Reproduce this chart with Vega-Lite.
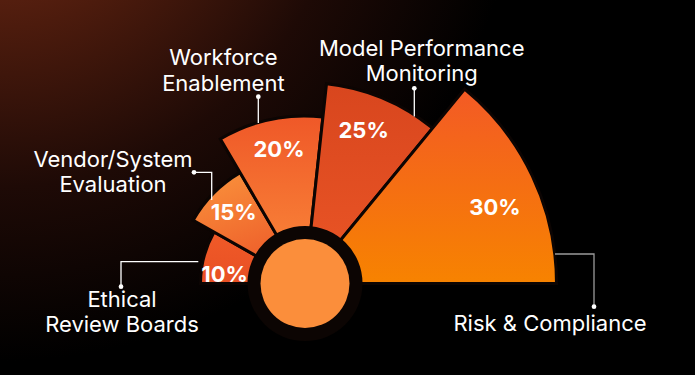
{
  "$schema": "https://vega.github.io/schema/vega-lite/v6.json",
  "width": 695,
  "height": 375,
  "autosize": {"type": "fit", "contains": "padding"},
  "padding": 0,
  "background": "#000000",
  "config": {"view": {"stroke": null}, "font": "Inter"},
  "datasets": {
    "shares": [
      {"area": "Ethical Review Boards", "value": 10, "label": "10%"},
      {"area": "Vendor/System Evaluation", "value": 15, "label": "15%"},
      {"area": "Workforce Enablement", "value": 20, "label": "20%"},
      {"area": "Model Performance Monitoring", "value": 25, "label": "25%"},
      {"area": "Risk & Compliance", "value": 30, "label": "30%"}
    ],
    "leaders": [
      {"g": "ethical", "i": 0, "x": -106.7, "y": 21.8},
      {"g": "ethical", "i": 1, "x": -184, "y": 21.8},
      {"g": "ethical", "i": 2, "x": -184, "y": -3.2},
      {"g": "vendor", "i": 0, "x": -111, "y": 111.2},
      {"g": "vendor", "i": 1, "x": -93.3, "y": 111.2},
      {"g": "vendor", "i": 2, "x": -93.3, "y": 83.5},
      {"g": "workforce", "i": 0, "x": -46.7, "y": 186.8},
      {"g": "workforce", "i": 1, "x": -46.7, "y": 160.5},
      {"g": "model", "i": 0, "x": 109.3, "y": 195.2},
      {"g": "model", "i": 1, "x": 109.3, "y": 167},
      {"g": "risk", "i": 0, "x": 250, "y": 29.5},
      {"g": "risk", "i": 1, "x": 289, "y": 29.5},
      {"g": "risk", "i": 2, "x": 289, "y": -23.2}
    ],
    "dots": [
      {"g": "ethical", "x": -184, "y": -3.2},
      {"g": "vendor", "x": -111, "y": 111.2},
      {"g": "workforce", "x": -46.7, "y": 186.8},
      {"g": "model", "x": 109.3, "y": 195.2},
      {"g": "risk", "x": 289, "y": -23.2}
    ],
    "callouts": [
      {"text": "Ethical\nReview Boards", "x": -183, "y": -23.2},
      {"text": "Vendor/System\nEvaluation", "x": -192, "y": 116.8},
      {"text": "Workforce\nEnablement", "x": -81.6, "y": 218.5},
      {"text": "Model Performance\nMonitoring", "x": 116.7, "y": 227.8},
      {"text": "Risk & Compliance", "x": 245, "y": -47.2}
    ]
  },
  "layer": [
    {
      "data": {"values": [{}]},
      "mark": {
        "type": "rect",
        "color": {
          "gradient": "radial",
          "x1": 0, "y1": 0, "r1": 0,
          "x2": 0, "y2": 0, "r2": 1,
          "stops": [
            {"offset": 0, "color": "#82301a"},
            {"offset": 0.27, "color": "#4c1b0d"},
            {"offset": 0.5, "color": "#1e0a06"},
            {"offset": 0.75, "color": "#000000"}
          ]
        }
      },
      "encoding": {
        "x": {"datum": -305, "type": "quantitative", "scale": {"domain": [-305, 390], "nice": false, "zero": false}, "axis": null},
        "x2": {"datum": 390},
        "y": {"datum": -91.5, "type": "quantitative", "scale": {"domain": [-91.5, 283.5], "nice": false, "zero": false}, "axis": null},
        "y2": {"datum": 283.5}
      }
    },
    {
      "data": {"name": "shares"},
      "mark": {"type": "arc", "stroke": "#0c0503", "strokeWidth": 3, "radius2": 0},
      "encoding": {
        "x": {"datum": 0, "type": "quantitative", "scale": {"domain": [-305, 390], "nice": false, "zero": false}, "axis": null},
        "y": {"datum": 0, "type": "quantitative", "scale": {"domain": [-91.5, 283.5], "nice": false, "zero": false}, "axis": null},
        "theta": {
          "field": "value", "type": "quantitative", "stack": true,
          "scale": {"domain": [0, 10, 25, 45, 70, 100], "range": [-1.5708, -1.0559, -0.5297, 0.1073, 0.6877, 1.5708], "zero": false, "nice": false}
        },
        "radius": {
          "field": "value", "type": "quantitative",
          "scale": {"type": "linear", "domain": [0, 10, 15, 20, 25, 30], "range": [0, 104.5, 128.5, 167.5, 201, 251.5], "zero": false, "nice": false}
        },
        "order": {"field": "value", "type": "quantitative", "sort": "ascending"},
        "fill": {
          "condition": [
            {"test": "datum.value === 10", "value": {"gradient": "linear", "x1": 0, "y1": 0, "x2": 0, "y2": 1, "stops": [{"offset": 0, "color": "#f05a28"}, {"offset": 1, "color": "#e85024"}]}},
            {"test": "datum.value === 15", "value": {"gradient": "linear", "x1": 0.2, "y1": 0, "x2": 0.6, "y2": 1, "stops": [{"offset": 0, "color": "#f9903b"}, {"offset": 1, "color": "#ec5427"}]}},
            {"test": "datum.value === 20", "value": {"gradient": "linear", "x1": 0, "y1": 0, "x2": 0, "y2": 1, "stops": [{"offset": 0, "color": "#ef5828"}, {"offset": 1, "color": "#fb8c3b"}]}},
            {"test": "datum.value === 25", "value": {"gradient": "linear", "x1": 0, "y1": 0, "x2": 0, "y2": 1, "stops": [{"offset": 0, "color": "#d8461e"}, {"offset": 1, "color": "#eb5626"}]}},
            {"test": "datum.value === 30", "value": {"gradient": "linear", "x1": 0, "y1": 0, "x2": 0, "y2": 1, "stops": [{"offset": 0, "color": "#f35a25"}, {"offset": 1, "color": "#f78300"}]}}
          ],
          "value": "#f05a28"
        }
      }
    },
    {
      "data": {"values": [{}]},
      "mark": {"type": "arc", "radius": 57.5, "theta": 0, "theta2": 6.2832, "fill": "#0c0503"},
      "encoding": {
        "x": {"datum": 0, "type": "quantitative", "scale": {"domain": [-305, 390], "nice": false, "zero": false}, "axis": null},
        "y": {"datum": 0, "type": "quantitative", "scale": {"domain": [-91.5, 283.5], "nice": false, "zero": false}, "axis": null}
      }
    },
    {
      "data": {"values": [{}]},
      "mark": {"type": "arc", "radius": 44.5, "theta": 0, "theta2": 6.2832, "fill": "#fb8e3b"},
      "encoding": {
        "x": {"datum": 0, "type": "quantitative", "scale": {"domain": [-305, 390], "nice": false, "zero": false}, "axis": null},
        "y": {"datum": 0, "type": "quantitative", "scale": {"domain": [-91.5, 283.5], "nice": false, "zero": false}, "axis": null}
      }
    },
    {
      "data": {"name": "shares"},
      "mark": {"type": "text", "fontSize": 22, "fontWeight": "bold", "fill": "#ffffff", "align": "center", "baseline": "middle"},
      "encoding": {
        "x": {"datum": 0, "type": "quantitative", "scale": {"domain": [-305, 390], "nice": false, "zero": false}, "axis": null},
        "y": {"datum": 0, "type": "quantitative", "scale": {"domain": [-91.5, 283.5], "nice": false, "zero": false}, "axis": null},
        "theta": {
          "field": "value", "type": "quantitative", "stack": true,
          "scale": {"domain": [5, 17.5, 35, 57.5, 85], "range": [-1.4713, -0.7906, -0.192, 0.3665, 1.1921], "zero": false, "nice": false}
        },
        "radius": {
          "field": "value", "type": "quantitative",
          "scale": {"type": "linear", "domain": [10, 15, 20, 25, 30], "range": [80.9, 100.3, 136.5, 163.6, 204.5], "zero": false, "nice": false}
        },
        "order": {"field": "value", "type": "quantitative", "sort": "ascending"},
        "text": {"field": "label", "type": "nominal"}
      }
    },
    {
      "data": {"name": "leaders"},
      "mark": {"type": "line", "strokeWidth": 1.3},
      "encoding": {
        "x": {"field": "x", "type": "quantitative", "scale": {"domain": [-305, 390], "nice": false, "zero": false}, "axis": null},
        "y": {"field": "y", "type": "quantitative", "scale": {"domain": [-91.5, 283.5], "nice": false, "zero": false}, "axis": null},
        "detail": {"field": "g", "type": "nominal"},
        "order": {"field": "i", "type": "quantitative"},
        "color": {"condition": {"test": "datum.g === 'risk'", "value": "#9a9a9a"}, "value": "#ffffff"}
      }
    },
    {
      "data": {"name": "dots"},
      "mark": {"type": "point", "filled": true, "size": 22, "opacity": 1, "color": "#ffffff"},
      "encoding": {
        "x": {"field": "x", "type": "quantitative", "scale": {"domain": [-305, 390], "nice": false, "zero": false}, "axis": null},
        "y": {"field": "y", "type": "quantitative", "scale": {"domain": [-91.5, 283.5], "nice": false, "zero": false}, "axis": null}
      }
    },
    {
      "data": {"name": "callouts"},
      "mark": {"type": "text", "fontSize": 22, "fill": "#ffffff", "align": "center", "baseline": "alphabetic", "lineBreak": "\n", "lineHeight": 25.5},
      "encoding": {
        "x": {"field": "x", "type": "quantitative", "scale": {"domain": [-305, 390], "nice": false, "zero": false}, "axis": null},
        "y": {"field": "y", "type": "quantitative", "scale": {"domain": [-91.5, 283.5], "nice": false, "zero": false}, "axis": null},
        "text": {"field": "text", "type": "nominal"}
      }
    }
  ],
  "resolve": {"scale": {"theta": "independent", "radius": "independent"}}
}
